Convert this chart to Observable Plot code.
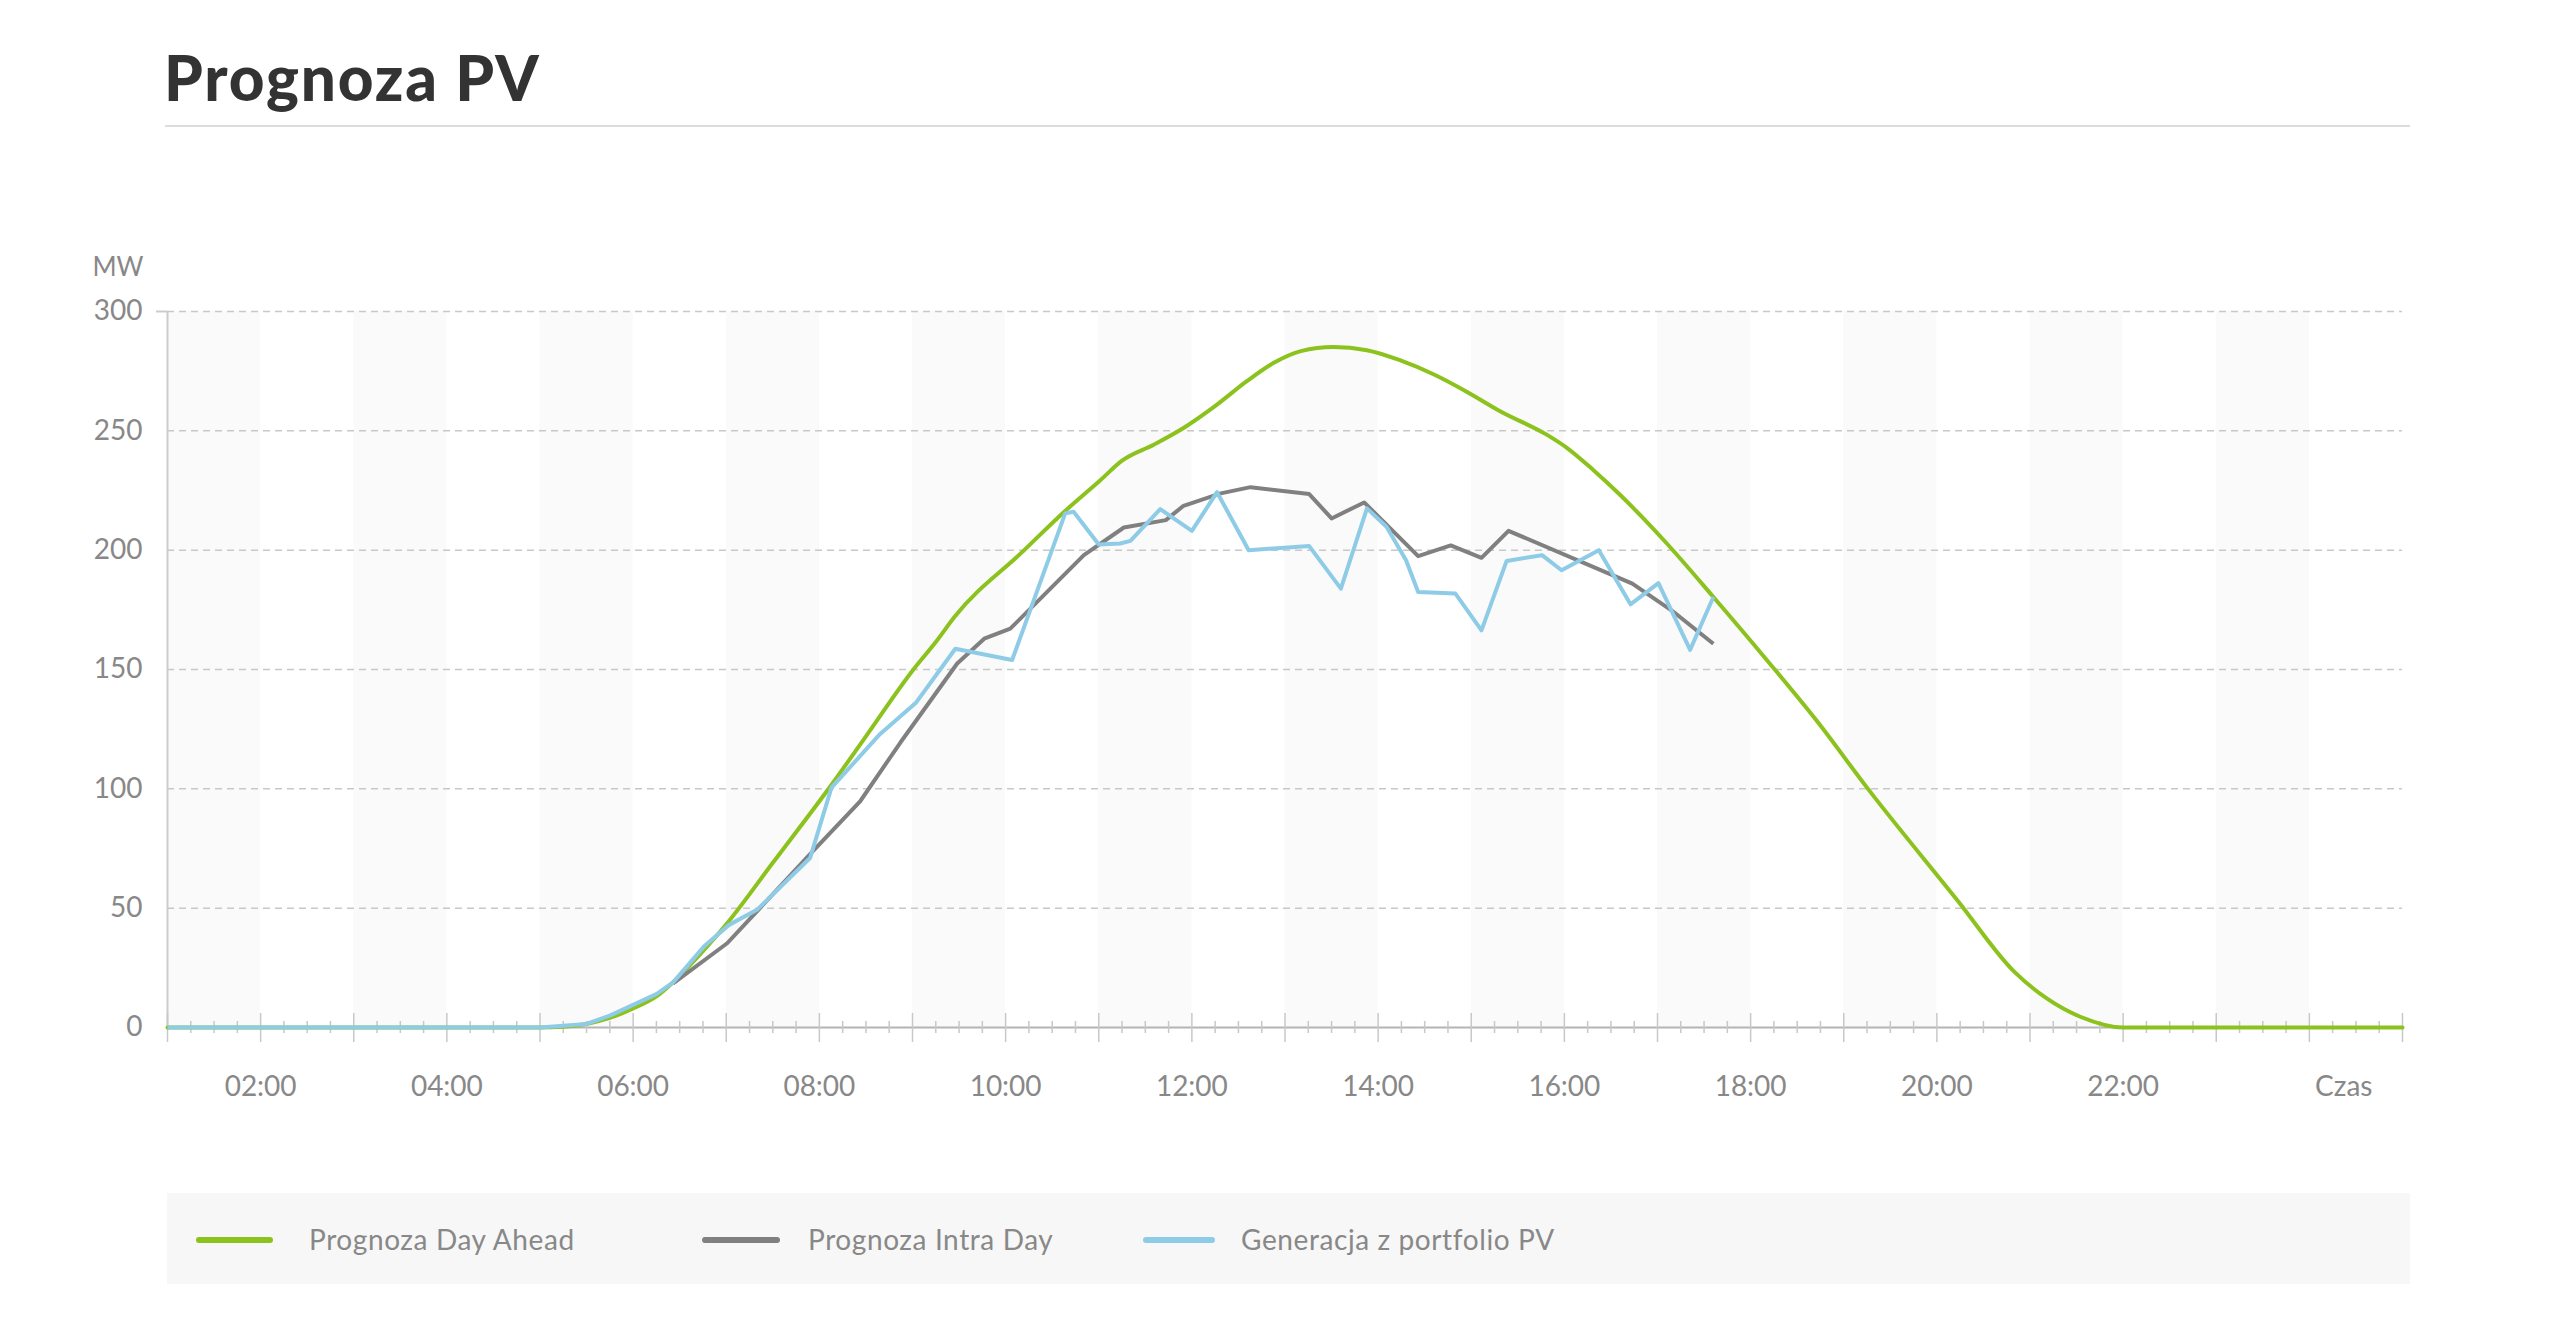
<!DOCTYPE html>
<html>
<head>
<meta charset="utf-8">
<script src="https://cdn.jsdelivr.net/npm/d3@7"></script>
<script src="https://cdn.jsdelivr.net/npm/@observablehq/plot@0.6"></script>
<style>
  html, body { margin: 0; padding: 0; background: #fff; }
  body { width: 2560px; height: 1324px; position: relative; overflow: hidden; font-family: Lato, "Noto Sans", sans-serif; }
  #title { position: absolute; left: 164px; top: 40px; font-size: 62px; line-height: 74px; font-weight: 900; color: #333; letter-spacing: 1.8px; }
  #rule { position: absolute; left: 165px; top: 125px; width: 2245px; height: 2px; background: #dcdcdc; }
  #chart { position: absolute; left: 0; top: 150px; }
  #legend { position: absolute; left: 167px; top: 1193px; width: 2243px; height: 91px; background: #f7f7f7; }
  .sw { position: absolute; top: 44px; height: 6px; border-radius: 3px; }
  .lb { position: absolute; top: 29px; font-size: 28px; line-height: 34px; color: #888; white-space: nowrap; letter-spacing: 0.6px; }
</style>
</head>
<body>
<div id="title">Prognoza PV</div>
<div id="rule"></div>
<div id="chart"></div>
<div id="legend"></div>
<script>
// ---- data (hours of day, MW) ----
const seriesNames = ["Prognoza Day Ahead", "Prognoza Intra Day", "Generacja z portfolio PV"];
const seriesColors = ["#8cc21e", "#808080", "#8ecbe6"];

const dayAheadHours = [1, 2, 3, 4, 5, 5.25, 5.5, 5.75, 6.0, 6.25, 6.43, 6.75, 7.01, 7.5, 8.16, 8.5, 9.01, 9.25, 9.45, 10.2, 10.63, 11.02, 11.25, 11.59, 11.91, 12.27, 12.59, 12.88, 13.17, 13.52, 13.88, 14.24, 14.6, 14.96, 15.31, 15.81, 16.03, 16.31, 16.6, 17.1, 17.6, 18.18, 18.71, 19.25, 20.23, 20.83, 21.18, 21.54, 22, 23, 24, 25];
const dayAheadMW    = [0, 0, 0, 0, 0, 0.3, 1.5, 4, 8, 13, 19, 32, 43.7, 69, 103.3, 122, 150, 161.5, 172, 200, 216.1, 229.4, 237.5, 244.2, 251.2, 261, 270.8, 278.5, 283.4, 285.1, 283.8, 279.5, 273.6, 266.2, 258.2, 248.4, 242.8, 233.6, 223.1, 202.8, 180.4, 153.7, 128.5, 100.5, 52.8, 23.4, 12.2, 4.5, 0, 0, 0, 0];

const intraDayHours = [6.43, 7.01, 7.9, 8.44, 8.87, 9.48, 9.77, 10.05, 10.84, 11.27, 11.72, 11.91, 12.31, 12.63, 13.26, 13.5, 13.85, 14.43, 14.78, 15.11, 15.40, 16.73, 17.15, 17.6];
const intraDayMW    = [18.5, 35.3, 72.6, 94.9, 119.4, 152.5, 162.9, 167.1, 197.9, 209.5, 212.6, 218.6, 223.8, 226.4, 223.5, 213.3, 220, 197.5, 202, 196.8, 208.1, 186, 174.8, 160.8];

const generationHours = [1, 2, 3, 4, 5.0, 5.5, 5.75, 6.0, 6.25, 6.43, 6.76, 7.03, 7.33, 7.9, 8.13, 8.65, 9.04, 9.46, 10.07, 10.64, 10.73, 11.0, 11.23, 11.34, 11.66, 12.0, 12.27, 12.61, 13.26, 13.6, 13.88, 14.09, 14.3, 14.43, 14.83, 15.11, 15.38, 15.76, 15.97, 16.37, 16.71, 17.01, 17.35, 17.6];
const generationMW    = [0, 0, 0, 0, 0, 1.5, 5, 9.5, 14, 18.9, 33.9, 43, 49.3, 71, 100.5, 122.9, 136.2, 158.7, 154, 215.4, 216.1, 202.4, 202.8, 203.9, 217.2, 208.1, 224.3, 200, 201.7, 183.9, 217.5, 209.8, 195.8, 182.5, 181.8, 166.4, 195.5, 197.9, 191.6, 200, 177.3, 186.2, 158.2, 180.4];

const xTickHours = [2, 4, 6, 8, 10, 12, 14, 16, 18, 20, 22];
const yTicks = [0, 50, 100, 150, 200, 250, 300];
const xDomain = [1, 25];
const yDomain = [0, 300];
const yUnit = "MW";
const xUnit = "Czas";

// ---- build tables ----
const toRows = (hs, vs) => hs.map((h, i) => ({h, v: vs[i]}));
const dayAhead = toRows(dayAheadHours, dayAheadMW);
const intraDay = toRows(intraDayHours, intraDayMW);
const generation = toRows(generationHours, generationMW);

const stripeStarts = d3.range(xDomain[0], xDomain[1] - 1, 2);
const majorTicks = d3.range(xDomain[0], xDomain[1] + 0.001, 1);
const minorTicks = d3.range(xDomain[0], xDomain[1] + 0.001, 0.25).filter(h => h % 1 !== 0);
const fmt = h => String(h).padStart(2, "0") + ":00";
const labelColor = "#888";

const chart = Plot.plot({
  width: 2560,
  height: 1000,
  marginTop: 161,
  marginBottom: 123,
  marginLeft: 167,
  marginRight: 158,
  style: {fontFamily: "Lato, 'Noto Sans', sans-serif", fontSize: "28px", background: "transparent"},
  x: {domain: xDomain, axis: null},
  y: {domain: yDomain, axis: null},
  marks: [
    Plot.rect(stripeStarts, {x1: d => d, x2: d => d + 1, y1: yDomain[0], y2: yDomain[1], fill: "#fafafa"}),
    Plot.gridY(yTicks.filter(v => v > 0), {stroke: "#c8c8c8", strokeOpacity: 1, strokeWidth: 1.5, strokeDasharray: "7,5"}),
    Plot.ruleX([xDomain[0]], {y1: yDomain[0], y2: yDomain[1], stroke: "#cccccc", strokeWidth: 2}),
    Plot.axisY({ticks: [yDomain[1]], tickSize: 11, text: null, stroke: "#cccccc", strokeWidth: 2, label: null}),
    Plot.axisY({ticks: yTicks, tickSize: 0, tickPadding: 25, fontSize: 28, fill: labelColor, color: labelColor, label: null}),
    Plot.ruleY([0], {stroke: "#b4b4b4", strokeWidth: 2}),
    Plot.axisX({ticks: majorTicks, tickSize: 29, dy: -14, text: null, stroke: "#c8c8c8", strokeWidth: 1.5, label: null}),
    Plot.axisX({ticks: minorTicks, tickSize: 12, dy: -6, text: null, stroke: "#c8c8c8", strokeWidth: 1.5, label: null}),
    Plot.axisX({ticks: xTickHours, tickFormat: fmt, tickSize: 0, tickPadding: 49, fontSize: 28, fill: labelColor, color: labelColor, label: null}),
    Plot.line(dayAhead, {x: "h", y: "v", stroke: seriesColors[0], strokeWidth: 4, curve: "monotone-x", strokeLinejoin: "round", strokeLinecap: "round"}),
    Plot.line(intraDay, {x: "h", y: "v", stroke: seriesColors[1], strokeWidth: 4, strokeLinejoin: "round", strokeLinecap: "butt"}),
    Plot.line(generation, {x: "h", y: "v", stroke: seriesColors[2], strokeWidth: 4, strokeLinejoin: "round", strokeLinecap: "butt"}),
    Plot.text([yUnit], {frameAnchor: "top-left", dx: -24, dy: -54, textAnchor: "end", fontSize: 26, fill: labelColor}),
    Plot.text([xUnit], {frameAnchor: "bottom-right", dx: -30, dy: 49, textAnchor: "end", lineAnchor: "top", fontSize: 28, fill: labelColor})
  ]
});
document.getElementById("chart").appendChild(chart);

// ---- legend ----
const legend = document.getElementById("legend");
const swatchLeft = [29, 535, 976];
const swatchWidth = [77, 78, 72];
const labelLeft = [142, 641, 1074];
seriesNames.forEach((name, i) => {
  const sw = document.createElement("div");
  sw.className = "sw";
  sw.style.left = swatchLeft[i] + "px";
  sw.style.width = swatchWidth[i] + "px";
  sw.style.background = seriesColors[i];
  legend.appendChild(sw);
  const lb = document.createElement("div");
  lb.className = "lb";
  lb.style.left = labelLeft[i] + "px";
  lb.textContent = name;
  legend.appendChild(lb);
});
</script>
</body>
</html>
